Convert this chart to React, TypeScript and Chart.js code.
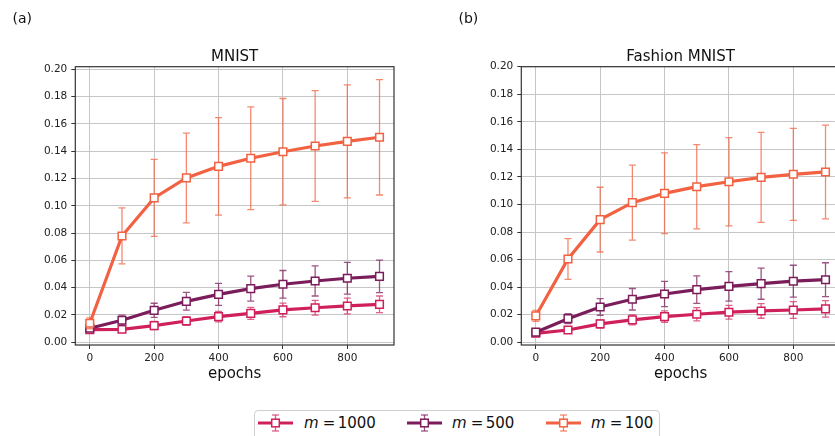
import { useEffect, useRef } from "react";
import { Chart, registerables } from "chart.js";

Chart.register(...registerables);

// ---------- data ----------
const epochs = [0, 100, 200, 300, 400, 500, 600, 700, 800, 900];
const xTicks = [0, 200, 400, 600, 800];
const yTicks = [0, 0.02, 0.04, 0.06, 0.08, 0.1, 0.12, 0.14, 0.16, 0.18, 0.2];

const seriesLabels = ["1000", "500", "100"];

// MNIST
const mnistM1000 = [0.0092, 0.0095, 0.0122, 0.0156, 0.0188, 0.0212, 0.0237, 0.0253, 0.0266, 0.0278];
const mnistM1000Err = [0.0015, 0.002, 0.003, 0.0032, 0.0039, 0.0044, 0.005, 0.0054, 0.0058, 0.0061];
const mnistM500 = [0.0103, 0.0161, 0.0234, 0.03, 0.0351, 0.0393, 0.0425, 0.0449, 0.0469, 0.0483];
const mnistM500Err = [0.0015, 0.0038, 0.0052, 0.0065, 0.008, 0.0092, 0.0101, 0.011, 0.0116, 0.0119];
const mnistM100 = [0.0139, 0.0779, 0.1058, 0.1204, 0.1289, 0.1348, 0.1396, 0.1438, 0.1472, 0.1502];
const mnistM100Err = [0.004, 0.0205, 0.0282, 0.0329, 0.0357, 0.0376, 0.039, 0.0405, 0.0414, 0.0423];

// Fashion MNIST
const fashionM1000 = [0.0065, 0.0089, 0.0133, 0.0162, 0.0186, 0.0203, 0.0218, 0.0227, 0.0234, 0.0242];
const fashionM1000Err = [0.0012, 0.002, 0.003, 0.0036, 0.0041, 0.0048, 0.005, 0.0053, 0.0061, 0.006];
const fashionM500 = [0.0073, 0.0171, 0.0256, 0.0312, 0.035, 0.0382, 0.0406, 0.0425, 0.0443, 0.0454];
const fashionM500Err = [0.0015, 0.0036, 0.006, 0.0078, 0.0092, 0.01, 0.0107, 0.0113, 0.0116, 0.0123];
const fashionM100 = [0.0191, 0.0604, 0.089, 0.1013, 0.1081, 0.1129, 0.1165, 0.1197, 0.1219, 0.1236];
const fashionM100Err = [0.004, 0.0148, 0.0235, 0.0272, 0.0293, 0.0306, 0.032, 0.0327, 0.0334, 0.034];

// ---------- style ----------
const COLORS = ["#d0205a", "#7b1d5b", "#f26142"];
const ERR_COLORS = ["rgba(208,32,90,0.7)", "rgba(123,29,91,0.75)", "rgba(242,97,66,0.75)"];
const FONT = '"DejaVu Sans", "Noto Sans", sans-serif';

type PanelProps = {
  title: string;
  panel: string;
  values: number[][];
  errors: number[][];
  yMin: number;
  yMax: number;
  left: number;
};

const errorBarPlugin = {
  id: "errorBars",
  beforeDatasetDraw(chart: any, args: any) {
    const ds: any = chart.data.datasets[args.index];
    const errs: number[] = ds.errors;
    if (!errs) return;
    const xs = chart.scales.x;
    const ys = chart.scales.y;
    const ctx = chart.ctx;
    ctx.save();
    ctx.strokeStyle = ds.errColor;
    ctx.lineWidth = 1.3;
    ds.data.forEach((p: any, i: number) => {
      const x = xs.getPixelForValue(p.x);
      const yTop = ys.getPixelForValue(p.y + errs[i]);
      const yBot = ys.getPixelForValue(p.y - errs[i]);
      ctx.beginPath();
      ctx.moveTo(x, yTop);
      ctx.lineTo(x, yBot);
      ctx.moveTo(x - 3.5, yTop);
      ctx.lineTo(x + 3.5, yTop);
      ctx.moveTo(x - 3.5, yBot);
      ctx.lineTo(x + 3.5, yBot);
      ctx.stroke();
    });
    ctx.restore();
  },
};

const frameTextPlugin = {
  id: "frameText",
  afterDraw(chart: any) {
    const o = chart.options.plugins.frameText;
    const { left, right, top, bottom } = chart.chartArea;
    const ctx = chart.ctx;
    ctx.save();
    ctx.strokeStyle = "#333333";
    ctx.lineWidth = 1.2;
    ctx.strokeRect(left, top, right - left, bottom - top);
    ctx.fillStyle = "#111111";
    ctx.textBaseline = "alphabetic";
    ctx.textAlign = "center";
    ctx.font = `15px ${FONT}`;
    ctx.fillText(o.title, (left + right) / 2, 60.7);
    ctx.fillText("epochs", (left + right) / 2, 378.3);
    ctx.textAlign = "left";
    ctx.font = `14px ${FONT}`;
    ctx.fillText(o.panel, 12.5, 23.2);
    ctx.restore();
  },
};

function Panel({ title, panel, values, errors, yMin, yMax, left }: PanelProps) {
  const ref = useRef<HTMLCanvasElement>(null);
  useEffect(() => {
    if (!ref.current) return;
    const datasets = values.map((vals, k) => ({
      label: "m = " + seriesLabels[k],
      data: epochs.map((x, i) => ({ x, y: vals[i] })),
      errors: errors[k],
      errColor: ERR_COLORS[k],
      borderColor: COLORS[k],
      backgroundColor: COLORS[k],
      borderWidth: 3.2,
      pointStyle: "rect",
      pointRadius: 5.4,
      pointBorderWidth: 1.5,
      pointBorderColor: COLORS[k],
      pointBackgroundColor: "#ffffff",
      order: 3 - k,
      tension: 0,
    }));
    const chart = new Chart(ref.current, {
      type: "line",
      data: { datasets } as any,
      plugins: [errorBarPlugin, frameTextPlugin],
      options: {
        animation: false,
        responsive: false,
        devicePixelRatio: 1,
        layout: { padding: { left: 0, top: 66.7, right: 26, bottom: 0 } },
        plugins: {
          legend: { display: false },
          tooltip: { enabled: false },
          title: { display: false },
          frameText: { title, panel },
        } as any,
        scales: {
          x: {
            type: "linear",
            min: -45,
            max: 945,
            afterBuildTicks: (s: any) => {
              s.ticks = xTicks.map((v) => ({ value: v }));
            },
            afterFit: (s: any) => {
              s.height = 91;
            },
            ticks: {
              color: "#222222",
              font: { family: FONT, size: 10.5 },
              padding: 3,
              maxRotation: 0,
              callback: (v: any) => String(v),
            },
            grid: { color: "#c6c6c6", lineWidth: 1, tickColor: "#333333", tickLength: 4 },
            border: { display: false },
          },
          y: {
            type: "linear",
            min: yMin,
            max: yMax,
            afterBuildTicks: (s: any) => {
              s.ticks = yTicks.map((v) => ({ value: v }));
            },
            afterFit: (s: any) => {
              s.width = 75.3;
            },
            ticks: {
              color: "#222222",
              font: { family: FONT, size: 10.5 },
              padding: 4,
              callback: (v: any) => Number(v).toFixed(2),
            },
            grid: { color: "#c6c6c6", lineWidth: 1, tickColor: "#333333", tickLength: 4 },
            border: { display: false },
          },
        },
      } as any,
    });
    return () => chart.destroy();
  }, []);
  return (
    <canvas
      ref={ref}
      width={420}
      height={436}
      style={{ position: "absolute", left, top: 0, width: 420, height: 436 }}
    />
  );
}

function LegendItem({ k, x, tx }: { k: number; x: number; tx: number }) {
  return (
    <>
      <svg
        width={36}
        height={20}
        style={{ position: "absolute", left: x, top: 413 }}
      >
        <line x1={0} y1={10} x2={35} y2={10} stroke={COLORS[k]} strokeWidth={3.2} />
        <line x1={17.5} y1={2} x2={17.5} y2={18} stroke={ERR_COLORS[k]} strokeWidth={1.3} />
        <line x1={14} y1={2} x2={21} y2={2} stroke={ERR_COLORS[k]} strokeWidth={1.3} />
        <line x1={14} y1={18} x2={21} y2={18} stroke={ERR_COLORS[k]} strokeWidth={1.3} />
        <rect x={13.7} y={6.2} width={7.6} height={7.6} fill="#ffffff" stroke={COLORS[k]} strokeWidth={1.5} />
      </svg>
      <span
        style={{
          position: "absolute",
          left: tx,
          top: 414.5,
          fontFamily: FONT,
          fontSize: 15,
          lineHeight: "16px",
          color: "#111111",
          whiteSpace: "nowrap",
        }}
      >
        <i>m</i>
        <span style={{ margin: "0 2.5px 0 4px" }}>=</span>
        {seriesLabels[k]}
      </span>
    </>
  );
}

export default function App() {
  return (
    <div
      style={{
        position: "fixed",
        left: 0,
        top: 0,
        width: 835,
        height: 436,
        overflow: "hidden",
        background: "#ffffff",
      }}
    >
      <Panel
        title="MNIST"
        panel="(a)"
        values={[mnistM1000, mnistM500, mnistM100]}
        errors={[mnistM1000Err, mnistM500Err, mnistM100Err]}
        yMin={-0.002}
        yMax={0.2019}
        left={0}
      />
      <Panel
        title="Fashion MNIST"
        panel="(b)"
        values={[fashionM1000, fashionM500, fashionM100]}
        errors={[fashionM1000Err, fashionM500Err, fashionM100Err]}
        yMin={-0.002}
        yMax={0.2}
        left={446}
      />
      <div
        style={{
          position: "absolute",
          left: 254,
          top: 410,
          width: 406,
          height: 40,
          border: "1px solid #d0d0d0",
          borderRadius: 4,
          background: "#ffffff",
          boxSizing: "border-box",
        }}
      />
      <LegendItem k={0} x={258} tx={304} />
      <LegendItem k={1} x={407} tx={452} />
      <LegendItem k={2} x={546} tx={591} />
    </div>
  );
}
